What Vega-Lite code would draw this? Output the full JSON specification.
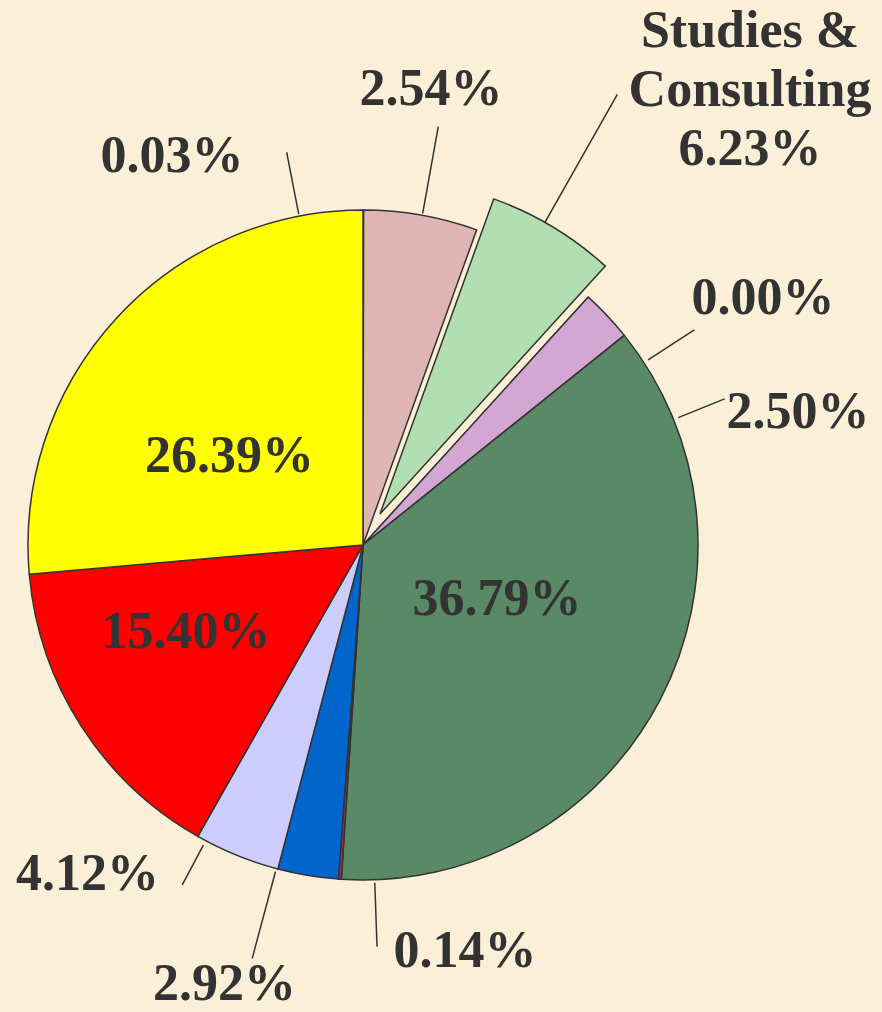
{
  "$schema": "https://vega.github.io/schema/vega-lite/v6.json",
  "width": 726,
  "height": 934,
  "padding": {"left": 0, "top": 78, "right": 156, "bottom": 0},
  "autosize": "none",
  "background": "#FBEFD7",
  "config": {"view": {"stroke": null}, "text": {"font": "Liberation Serif", "fontWeight": "bold", "fontSize": 52, "fill": "#333333", "align": "center", "baseline": "middle"}},
  "data": {"values": [
    {"i": 1, "k": "a", "value": 0.03, "label": "0.03%"},
    {"i": 2, "k": "b", "value": 5.48, "label": "2.54%"},
    {"i": 3, "k": "c", "value": 6.23, "label": "Studies &\nConsulting\n6.23%"},
    {"i": 4, "k": "d", "value": 0.0, "label": "0.00%"},
    {"i": 5, "k": "e", "value": 2.5, "label": "2.50%"},
    {"i": 6, "k": "f", "value": 36.79, "label": "36.79%"},
    {"i": 7, "k": "g", "value": 0.14, "label": "0.14%"},
    {"i": 8, "k": "h", "value": 2.92, "label": "2.92%"},
    {"i": 9, "k": "i", "value": 4.12, "label": "4.12%"},
    {"i": 10, "k": "j", "value": 15.4, "label": "15.40%"},
    {"i": 11, "k": "k", "value": 26.39, "label": "26.39%"}
  ]},
  "encoding": {
    "theta": {"field": "value", "type": "quantitative", "stack": true},
    "order": {"field": "i", "type": "quantitative"}
  },
  "layer": [
    {
      "mark": {"type": "arc", "outerRadius": 335, "stroke": "#333333", "strokeWidth": 1.5},
      "encoding": {
        "color": {"field": "k", "type": "nominal", "legend": null,
          "scale": {"domain": ["a","b","c","d","e","f","g","h","i","j","k"],
                    "range": ["#9999FF","#DFB4B4","#B2DFB2","#CC99CC","#D3A6D3","#5A8966","#993366","#0066CC","#CCCCFF","#FF0000","#FFFF00"]}},
        "opacity": {"condition": {"test": "datum.k === 'c'", "value": 0}, "value": 1}
      }
    },
    {
      "mark": {"type": "arc", "outerRadius": 335, "stroke": "#333333", "strokeWidth": 1.5, "xOffset": 17, "yOffset": -31},
      "encoding": {
        "color": {"field": "k", "type": "nominal", "legend": null},
        "opacity": {"condition": {"test": "datum.k === 'c'", "value": 1}, "value": 0}
      }
    },
    {
      "mark": {"type": "arc", "radius": 400, "radius2": 337, "thetaOffset": -0.1929, "padAngle": 1, "stroke": "#333333", "strokeWidth": 1.5, "fillOpacity": 0},
      "encoding": {"opacity": {"condition": {"test": "datum.k === 'a'", "value": 1}, "value": 0}}
    },
    {
      "mark": {"type": "arc", "radius": 425, "radius2": 337, "thetaOffset": 0.004, "padAngle": 1, "stroke": "#333333", "strokeWidth": 1.5, "fillOpacity": 0},
      "encoding": {"opacity": {"condition": {"test": "datum.k === 'b'", "value": 1}, "value": 0}}
    },
    {
      "mark": {"type": "arc", "radius": 482, "radius2": 335, "thetaOffset": -0.0271, "padAngle": 1, "xOffset": 17, "yOffset": -31, "stroke": "#333333", "strokeWidth": 1.5, "fillOpacity": 0},
      "encoding": {"opacity": {"condition": {"test": "datum.k === 'c'", "value": 1}, "value": 0}}
    },
    {
      "mark": {"type": "arc", "radius": 395, "radius2": 340, "thetaOffset": 0.2572, "padAngle": 1, "stroke": "#333333", "strokeWidth": 1.5, "fillOpacity": 0},
      "encoding": {"opacity": {"condition": {"test": "datum.k === 'd'", "value": 1}, "value": 0}}
    },
    {
      "mark": {"type": "arc", "radius": 390, "radius2": 340, "thetaOffset": 0.3706, "padAngle": 1, "stroke": "#333333", "strokeWidth": 1.5, "fillOpacity": 0},
      "encoding": {"opacity": {"condition": {"test": "datum.k === 'e'", "value": 1}, "value": 0}}
    },
    {
      "mark": {"type": "arc", "radius": 402, "radius2": 338, "thetaOffset": -0.104, "padAngle": 1, "stroke": "#333333", "strokeWidth": 1.5, "fillOpacity": 0},
      "encoding": {"opacity": {"condition": {"test": "datum.k === 'g'", "value": 1}, "value": 0}}
    },
    {
      "mark": {"type": "arc", "radius": 428, "radius2": 338, "thetaOffset": 0.0966, "padAngle": 1, "stroke": "#333333", "strokeWidth": 1.5, "fillOpacity": 0},
      "encoding": {"opacity": {"condition": {"test": "datum.k === 'h'", "value": 1}, "value": 0}}
    },
    {
      "mark": {"type": "arc", "radius": 385, "radius2": 340, "thetaOffset": 0.1023, "padAngle": 1, "stroke": "#333333", "strokeWidth": 1.5, "fillOpacity": 0},
      "encoding": {"opacity": {"condition": {"test": "datum.k === 'i'", "value": 1}, "value": 0}}
    },
    {
      "mark": {"type": "text", "radius": 432.9, "thetaOffset": -0.4578},
      "encoding": {"text": {"condition": {"test": "datum.k === 'a'", "field": "label"}, "value": ""}}
    },
    {
      "mark": {"type": "text", "radius": 461, "thetaOffset": -0.026},
      "encoding": {"text": {"condition": {"test": "datum.k === 'b'", "field": "label"}, "value": ""}}
    },
    {
      "mark": {"type": "text", "radius": 643, "thetaOffset": 0.1039, "lineBreak": "\n", "lineHeight": 59},
      "encoding": {"text": {"condition": {"test": "datum.k === 'c'", "field": "label"}, "value": ""}}
    },
    {
      "mark": {"type": "text", "radius": 470.1, "thetaOffset": 0.28},
      "encoding": {"text": {"condition": {"test": "datum.k === 'd'", "field": "label"}, "value": ""}}
    },
    {
      "mark": {"type": "text", "radius": 454.9, "thetaOffset": 0.458},
      "encoding": {"text": {"condition": {"test": "datum.k === 'e'", "field": "label"}, "value": ""}}
    },
    {
      "mark": {"type": "text", "radius": 144.3, "thetaOffset": -0.0998},
      "encoding": {"text": {"condition": {"test": "datum.k === 'f'", "field": "label"}, "value": ""}}
    },
    {
      "mark": {"type": "text", "radius": 418.6, "thetaOffset": -0.3152},
      "encoding": {"text": {"condition": {"test": "datum.k === 'g'", "field": "label"}, "value": ""}}
    },
    {
      "mark": {"type": "text", "radius": 460, "thetaOffset": 0.1407},
      "encoding": {"text": {"condition": {"test": "datum.k === 'h'", "field": "label"}, "value": ""}}
    },
    {
      "mark": {"type": "text", "radius": 429.5, "thetaOffset": 0.31},
      "encoding": {"text": {"condition": {"test": "datum.k === 'i'", "field": "label"}, "value": ""}}
    },
    {
      "mark": {"type": "text", "radius": 197.4, "thetaOffset": 0.1121},
      "encoding": {"text": {"condition": {"test": "datum.k === 'j'", "field": "label"}, "value": ""}}
    },
    {
      "mark": {"type": "text", "radius": 160.7, "thetaOffset": -0.1511},
      "encoding": {"text": {"condition": {"test": "datum.k === 'k'", "field": "label"}, "value": ""}}
    }
  ]
}
